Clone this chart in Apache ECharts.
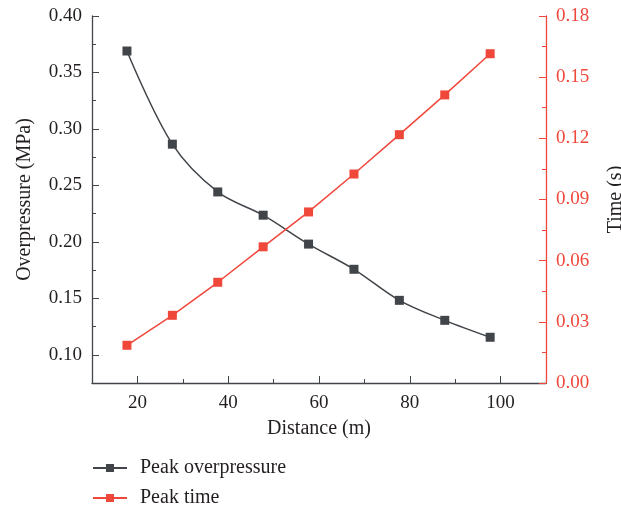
<!DOCTYPE html>
<html>
<head>
<meta charset="utf-8">
<script src="https://cdn.jsdelivr.net/npm/echarts@6/dist/echarts.min.js"></script>
<style>html,body{margin:0;padding:0;background:#fff}#c{width:621px;height:511px}</style>
</head>
<body>
<div id="c"></div>
<script>
var distance = [17.7, 27.7, 37.7, 47.7, 57.7, 67.7, 77.7, 87.7, 97.7];
var peakOverpressure = [0.369, 0.2865, 0.2442, 0.2236, 0.1980, 0.1757, 0.1482, 0.1305, 0.1155];
var peakTime = [0.0185, 0.0332, 0.0494, 0.0668, 0.0839, 0.1025, 0.1218, 0.1413, 0.1615];
var xMajorTicks = [20, 40, 60, 80, 100];
var xMinorTicks = [30, 50, 70, 90];
var yLeftMajorTicks = [0.10, 0.15, 0.20, 0.25, 0.30, 0.35, 0.40];
var yLeftMinorTicks = [0.125, 0.175, 0.225, 0.275, 0.325, 0.375];

var FONT = '"Liberation Serif", "DejaVu Serif", serif';
var DARK = '#414549';
var TEXT = '#231f20';
var RED = '#f0473b';

function pairs(xs, ys) { return xs.map(function (x, i) { return [x, ys[i]]; }); }

var chart = echarts.init(document.getElementById('c'), null, {renderer: 'canvas'});
chart.setOption({
  animation: false,
  backgroundColor: '#fff',
  grid: {left: 92, right: 75, top: 16, bottom: 128, containLabel: false, outerBoundsMode: 'none'},
  legend: {
    orient: 'vertical', left: 92, top: 458, height: 60, padding: 0,
    itemWidth: 34, itemHeight: 10, itemGap: 10,
    textStyle: {fontFamily: FONT, fontSize: 20, color: TEXT, padding: [0, 0, 0, 8]},
    data: ['Peak overpressure', 'Peak time']
  },
  xAxis: [{
    type: 'value', min: 10, max: 110, position: 'bottom',
    name: 'Distance (m)', nameLocation: 'middle', nameGap: 36,
    nameTextStyle: {fontFamily: FONT, fontSize: 20, color: TEXT},
    axisLine: {show: true, onZero: false, lineStyle: {color: DARK, width: 1.3}},
    axisTick: {show: true, inside: true, length: 7, customValues: xMajorTicks, lineStyle: {color: DARK, width: 1}},
    axisLabel: {customValues: xMajorTicks, margin: 11, fontFamily: FONT, fontSize: 19, color: TEXT},
    splitLine: {show: false}
  }, {
    type: 'value', min: 10, max: 110, position: 'bottom',
    axisLine: {show: false},
    axisTick: {show: true, inside: true, length: 4, customValues: xMinorTicks, lineStyle: {color: DARK, width: 1}},
    axisLabel: {show: false},
    splitLine: {show: false}
  }],
  yAxis: [{
    type: 'value', min: 0.075, max: 0.40, position: 'left',
    name: 'Overpressure (MPa)', nameLocation: 'middle', nameGap: 57,
    nameTextStyle: {fontFamily: FONT, fontSize: 20, color: TEXT},
    axisLine: {show: true, onZero: false, lineStyle: {color: DARK, width: 1.3}},
    axisTick: {show: true, inside: true, length: 7, customValues: yLeftMajorTicks, lineStyle: {color: DARK, width: 1}},
    axisLabel: {customValues: yLeftMajorTicks, margin: 10, fontFamily: FONT, fontSize: 19, color: TEXT,
      formatter: function (v) { return v.toFixed(2); }},
    splitLine: {show: false}
  }, {
    type: 'value', min: 0, max: 0.18, interval: 0.03, position: 'right',
    name: 'Time (s)', nameLocation: 'middle', nameGap: 60, nameRotate: 90,
    nameTextStyle: {fontFamily: FONT, fontSize: 20, color: TEXT},
    axisLine: {show: true, onZero: false, lineStyle: {color: RED, width: 1.3}},
    axisTick: {show: true, inside: true, length: 7, lineStyle: {color: RED, width: 1}},
    minorTick: {show: true, splitNumber: 2, length: 4, lineStyle: {color: RED, width: 1}},
    axisLabel: {margin: 10, fontFamily: FONT, fontSize: 19, color: RED,
      formatter: function (v) { return v.toFixed(2); }},
    splitLine: {show: false}, minorSplitLine: {show: false}
  }, {
    type: 'value', min: 0.075, max: 0.40, position: 'left',
    axisLine: {show: false},
    axisTick: {show: true, inside: true, length: 4, customValues: yLeftMinorTicks, lineStyle: {color: DARK, width: 1}},
    axisLabel: {show: false},
    splitLine: {show: false}
  }],
  series: [{
    name: 'Peak overpressure', type: 'line', xAxisIndex: 0, yAxisIndex: 0,
    data: pairs(distance, peakOverpressure), smooth: 0.35,
    symbol: 'rect', symbolSize: 9,
    itemStyle: {color: DARK}, lineStyle: {color: DARK, width: 1.5}
  }, {
    name: 'Peak time', type: 'line', xAxisIndex: 0, yAxisIndex: 1,
    data: pairs(distance, peakTime),
    symbol: 'rect', symbolSize: 9,
    itemStyle: {color: RED}, lineStyle: {color: RED, width: 1.5}
  }]
});
</script>
</body>
</html>
